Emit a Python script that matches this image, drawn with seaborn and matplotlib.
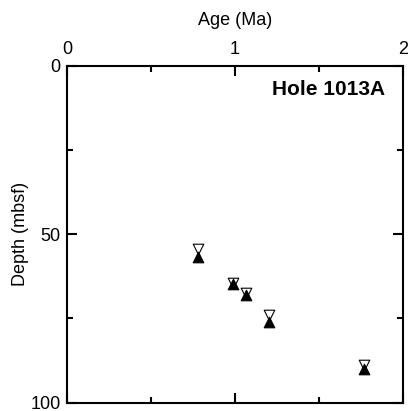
import matplotlib
matplotlib.use('Agg')
import matplotlib.pyplot as plt
import seaborn as sns
from matplotlib.ticker import MultipleLocator

# Datum ages (Ma) with top and bottom depths (mbsf) of each datum interval
age = [0.78, 0.99, 1.065, 1.20, 1.77]
depth_top = [54.3, 64.4, 67.4, 73.9, 88.8]
depth_bottom = [56.7, 64.9, 68.2, 76.2, 90.0]

x_ticks = [0, 1, 2]
y_ticks = [0, 50, 100]

sns.set_style('white')
plt.rcParams['font.family'] = ['Liberation Sans', 'DejaVu Sans']
plt.rcParams.update({'text.color': 'black', 'axes.labelcolor': 'black',
                     'xtick.color': 'black', 'ytick.color': 'black'})

fig = plt.figure(figsize=(4.08, 4.11), dpi=100)
ax = fig.add_axes([67 / 408, 8.5 / 411, 336 / 408, 336.5 / 411])

# open downward triangles = top of interval, filled upward = bottom
sns.scatterplot(x=age, y=depth_top, marker='v', s=58, color='white',
                edgecolor='black', linewidth=0.8, ax=ax, zorder=3)
sns.scatterplot(x=age, y=depth_bottom, marker='^', s=58, color='black',
                edgecolor='black', linewidth=0.8, ax=ax, zorder=4)

ax.set_xlim(0, 2)
ax.set_ylim(100, 0)
ax.set_xticks(x_ticks)
ax.set_yticks(y_ticks)
ax.xaxis.set_minor_locator(MultipleLocator(0.5))
ax.yaxis.set_minor_locator(MultipleLocator(25))

for s in ax.spines.values():
    s.set_visible(True)
    s.set_linewidth(1.5)
    s.set_color('black')

ax.xaxis.tick_top()
ax.xaxis.set_label_position('top')
ax.tick_params(which='both', direction='in', top=True, bottom=True,
               left=True, right=True, labeltop=True, labelbottom=False,
               width=1.5, color='black', labelcolor='black', labelsize=13)
ax.tick_params(which='major', length=7.5)
ax.tick_params(which='minor', length=4)
ax.tick_params(axis='x', pad=6)
ax.tick_params(axis='y', pad=4.5)

ax.set_xlabel('Age (Ma)', fontsize=13, color='black')
ax.set_ylabel('Depth (mbsf)', fontsize=13, color='black')
ax.xaxis.set_label_coords(0.5, 1.122)
ax.yaxis.set_label_coords(-0.113, 0.5)

ax.text(0.946, 0.958, 'Hole 1013A', transform=ax.transAxes, ha='right',
        va='top', fontsize=15, fontweight='bold', color='black')

fig.savefig('out.png', dpi=100)
